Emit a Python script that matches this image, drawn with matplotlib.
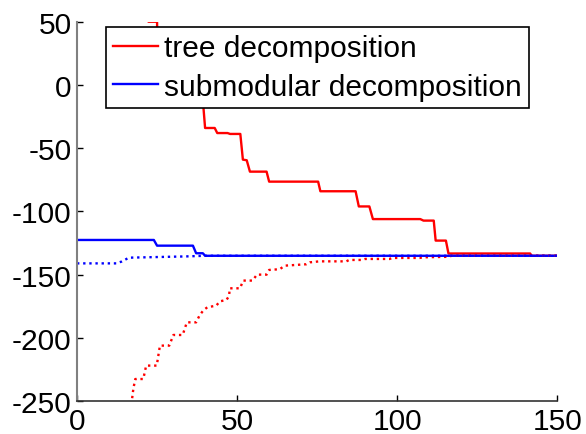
import matplotlib
matplotlib.use("Agg")
import matplotlib.pyplot as plt

plt.rcParams['font.family'] = ['Liberation Sans', 'DejaVu Sans']
plt.rcParams['axes.unicode_minus'] = False

# upper bounds (solid) and lower bounds (dotted) per iteration
tree_ub_x = [0, 22, 22.3, 25, 25.4, 39.3, 40, 43, 43.8, 47, 47.8, 51, 51.8, 53, 54,
             59.2, 60, 75.3, 76, 87, 88, 91.3, 92.4, 107.2, 108.2, 111.4, 112, 115.2,
             116, 141.5, 142, 150]
tree_ub_y = [80, 80, 50, 50, -12, -12, -34, -34, -38, -38, -38.7, -38.7, -59, -59.5, -68.5,
             -68.5, -76.4, -76.4, -84, -84, -96, -96, -106, -106, -107.2, -107.2, -123, -123,
             -133.2, -133.2, -135, -135]

tree_lb_x = [0, 16.8, 17.1, 17.6, 18.2, 20.7, 21.6, 24.9, 25.9, 28.8, 30.1, 33, 34.3, 37.2,
             38.3, 39.5, 40.7, 43.5, 44.6, 46.7, 47.5, 47.7, 50.9, 51.9, 54.8, 56.2, 59.2,
             60, 63.3, 64.9, 71.6, 72.7, 75.7, 84.1, 85, 89, 90, 97.6, 98.5, 107, 108,
             116, 117, 150]
tree_lb_y = [-300, -300, -250, -240, -232.4, -232.4, -221.8, -221.8, -206, -206, -197.6, -197.6,
             -187.6, -187.6, -182, -178, -175.7, -174.4, -171, -169.9, -166.5, -160.7, -160.7,
             -154.6, -154.6, -149.9, -149.9, -146.2, -145.6, -142.8, -141.7, -140.2, -139.4,
             -139.4, -138.3, -138.3, -137.5, -137.5, -136.7, -136.7, -136.2, -135.8, -135, -135]

sub_ub_x = [0, 24, 25, 36.2, 37.2, 39.3, 40, 150]
sub_ub_y = [-122.5, -122.5, -127, -127, -133, -133, -135, -135]

sub_lb_x = [0, 12.3, 14, 16.2, 25, 34, 40, 150]
sub_lb_y = [-141, -141, -139.5, -136.5, -136, -135.5, -135, -135]

fig = plt.figure(figsize=(5.86, 4.35), dpi=100)
ax = fig.add_axes([0.1314, 0.0752, 0.8197, 0.8726])

lw = 1.7
ax.plot(tree_ub_x, tree_ub_y, color='#ff0000', lw=lw, label='tree decomposition')
ax.plot(sub_ub_x, sub_ub_y, color='#0000ff', lw=lw, label='submodular decomposition')
ax.plot(tree_lb_x, tree_lb_y, color='#ff0000', lw=lw, ls=(0, (1, 1.6)))
ax.plot(sub_lb_x, sub_lb_y, color='#0000ff', lw=lw, ls=(0, (1, 1.6)))

ax.set_xlim(0, 150)
ax.set_ylim(-250, 50)
ax.set_xticks([0, 50, 100, 150])
ax.set_yticks([-250, -200, -150, -100, -50, 0, 50])

ax.spines['top'].set_visible(False)
ax.spines['right'].set_visible(False)
ax.spines['left'].set_color('#808080')
ax.spines['left'].set_linewidth(1.5)
ax.spines['bottom'].set_color('#333333')
ax.spines['bottom'].set_linewidth(1.2)
ax.tick_params(direction='in', length=4, width=1, labelsize=21.5, colors='black', pad=4)

leg = ax.legend(loc='upper left', bbox_to_anchor=(0.0598, 0.9868), borderaxespad=0,
                fontsize=21.5, handlelength=1.5, handletextpad=0.2, borderpad=0.25,
                labelspacing=0.36, fancybox=False, framealpha=1, edgecolor='black')
leg.get_frame().set_linewidth(1.2)

fig.savefig('out.png', dpi=100)
